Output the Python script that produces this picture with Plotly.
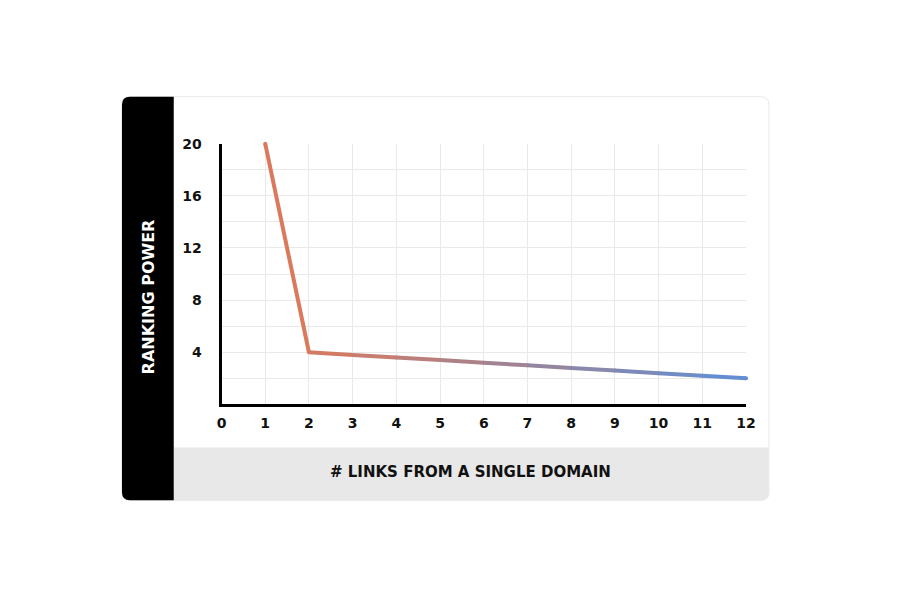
import plotly.graph_objects as go

# data
links = [1, 2, 3, 4, 5, 6, 7, 8, 9, 10, 11, 12]
ranking_power = [20, 4, 3.8, 3.6, 3.4, 3.2, 3.0, 2.8, 2.6, 2.4, 2.2, 2.0]
x_ticks = [0, 1, 2, 3, 4, 5, 6, 7, 8, 9, 10, 11, 12]
y_ticks = [4, 8, 12, 16, 20]

W, H = 900, 600
ORANGE = (217, 122, 92)
BLUE = (94, 143, 216)
FONT = 'DejaVu Sans'

# the photographed page comes out slightly scaled/shifted, compensate
SX, OX = 0.988, 11.5
SY, OY = 0.9876, 15.2


def fx(x):
    return (x - OX) / SX / W


def fy(y):
    return 1 - (y - OY) / SY / H


def rounded_path(x0, y0, x1, y1, r, corners):
    # pixel coords of the target picture, corners = tl, tr, br, bl
    tl, tr, br, bl = corners

    def P(x, y):
        return '%.5f,%.5f' % (fx(x), fy(y))
    s = 'M ' + P(x0 + (r if tl else 0), y0)
    s += ' L ' + P(x1 - (r if tr else 0), y0)
    if tr:
        s += ' Q ' + P(x1, y0) + ' ' + P(x1, y0 + r)
    s += ' L ' + P(x1, y1 - (r if br else 0))
    if br:
        s += ' Q ' + P(x1, y1) + ' ' + P(x1 - r, y1)
    s += ' L ' + P(x0 + (r if bl else 0), y1)
    if bl:
        s += ' Q ' + P(x0, y1) + ' ' + P(x0, y1 - r)
    s += ' L ' + P(x0, y0 + (r if tl else 0))
    if tl:
        s += ' Q ' + P(x0, y0) + ' ' + P(x0 + r, y0)
    return s + ' Z'


def mix(t):
    t = max(0.0, min(1.0, t))
    c = [round(a + (b - a) * t) for a, b in zip(ORANGE, BLUE)]
    return 'rgb(%d,%d,%d)' % tuple(c)


fig = go.Figure()

# gradient line, one trace per segment
for i in range(len(links) - 1):
    mid = (links[i] + links[i + 1]) / 2
    t = (mid - 2) / (links[-1] - 2)
    fig.add_trace(go.Scatter(
        x=links[i:i + 2], y=ranking_power[i:i + 2],
        mode='lines', line=dict(color=mix(t), width=4),
        cliponaxis=False, hoverinfo='skip', showlegend=False))

# round the joints
fig.add_trace(go.Scatter(
    x=links, y=ranking_power, mode='markers',
    marker=dict(size=4, color=[mix((x - 2) / (links[-1] - 2)) for x in links]),
    cliponaxis=False, showlegend=False))

shapes = [
    # card
    dict(type='path', xref='paper', yref='paper', layer='below',
         path=rounded_path(121, 96, 771, 500, 8, (1, 1, 1, 1)),
         fillcolor='white', line=dict(color='#e9e9e9', width=1)),
    # bottom grey band
    dict(type='path', xref='paper', yref='paper', layer='below',
         path=rounded_path(173, 447, 771, 500, 8, (0, 0, 1, 0)),
         fillcolor='#e8e8e8', line=dict(width=0)),
    # left black band
    dict(type='path', xref='paper', yref='paper', layer='below',
         path=rounded_path(121, 96, 173, 500, 8, (1, 0, 0, 1)),
         fillcolor='#000000', line=dict(width=0)),
]

tick_font = dict(family=FONT, size=14, color='#111111', weight='bold')

fig.update_layout(
    width=W, height=H,
    margin=dict(l=0, r=0, t=0, b=0),
    paper_bgcolor='white', plot_bgcolor='rgba(0,0,0,0)',
    shapes=shapes,
    xaxis=dict(
        domain=[fx(221), fx(748)], range=[0, 12],
        tickvals=x_ticks, ticks='', tickfont=tick_font,
        showgrid=True, gridcolor='#e9e9e9', gridwidth=1,
        showline=True, linecolor='#000000', linewidth=3,
        zeroline=False, ticklabelstandoff=4,
    ),
    yaxis=dict(
        domain=[fy(404), fy(143)], range=[0, 20],
        tickvals=y_ticks, ticks='', tickfont=tick_font,
        showgrid=True, gridcolor='#e9e9e9', gridwidth=1,
        minor=dict(tickmode='linear', tick0=0, dtick=2, showgrid=True,
                   gridcolor='#e9e9e9', gridwidth=1, ticks=''),
        showline=True, linecolor='#000000', linewidth=3,
        zeroline=False, ticklabelstandoff=14,
    ),
    annotations=[
        dict(text='RANKING POWER', xref='paper', yref='paper',
             x=fx(148), y=fy(296), xanchor='center', yanchor='middle',
             textangle=-90, showarrow=False,
             font=dict(family=FONT, size=16, color='white', weight='bold')),
        dict(text='# LINKS FROM A SINGLE DOMAIN', xref='paper', yref='paper',
             x=fx(471), y=fy(472), xanchor='center', yanchor='middle',
             showarrow=False,
             font=dict(family=FONT, size=15, color='#111111', weight='bold')),
    ],
)

fig.write_html('out.html')
